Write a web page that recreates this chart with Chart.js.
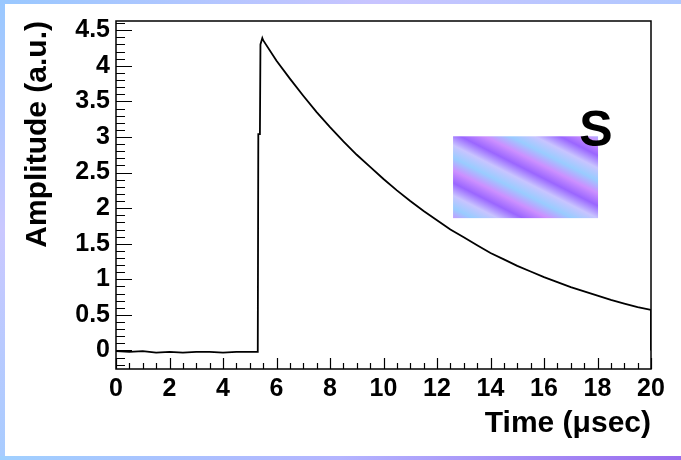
<!DOCTYPE html>
<html>
<head>
<meta charset="utf-8">
<script src="https://cdn.jsdelivr.net/npm/chart.js@4"></script>
<style>
body { margin: 0; }
#wrap { position: relative; width: 681px; height: 460px; overflow: hidden; background: #fff; }
.strip { position: absolute; }
#top { left: 0; top: 0; width: 681px; height: 4px; background: linear-gradient(to right, #99c8ff, #c8c4ff 55%, #b0c8ff); }
#left { left: 0; top: 0; width: 5px; height: 460px; background: linear-gradient(to bottom, #99c8ff, #cac8ff 50%, #a8ccff); }
#bottom { left: 0; bottom: 0; width: 681px; height: 4px; background: linear-gradient(to right, #a0d0ff, #b4b4ff 50%, #9a6cee); }
canvas { position: absolute; left: 0; top: 0; }
</style>
</head>
<body>
<div id="wrap">
	<div class="strip" id="top"></div>
	<div class="strip" id="left"></div>
	<div class="strip" id="bottom"></div>
	<canvas id="pulseChart" width="681" height="460"></canvas>
</div>
<script>
// pulse shape, time in microseconds
const timeUs = [0, 0.5, 1, 1.5, 2, 2.5, 3, 3.5, 4, 4.5, 5, 5.3,
	5.32, 5.38, 5.4, 5.47,
	5.5, 6, 6.5, 7, 7.5, 8, 8.5, 9, 9.5, 10, 10.5, 11, 11.5, 12, 12.5,
	13, 13.5, 14, 14.5, 15, 15.5, 16, 16.5, 17, 17.5, 18, 18.5, 19, 19.5, 20, 20];
const amplitude = [-0.01, -0.02, -0.01, -0.03, -0.02, -0.03, -0.02, -0.02, -0.03, -0.02, -0.02, -0.02,
	3.04, 3.04, 4.30, 4.39,
	4.36, 4.07, 3.82, 3.58, 3.35, 3.14, 2.94, 2.75, 2.58, 2.41, 2.25, 2.10, 1.96, 1.83, 1.70,
	1.59, 1.48, 1.37, 1.28, 1.19, 1.11, 1.03, 0.96, 0.89, 0.83, 0.77, 0.71, 0.66, 0.61, 0.57, 0.0];

const xTicks = [0, 2, 4, 6, 8, 10, 12, 14, 16, 18, 20];
const yTicks = [0, 0.5, 1, 1.5, 2, 2.5, 3, 3.5, 4, 4.5];
const yTickLabels = ['0', '0.5', '1', '1.5', '2', '2.5', '3', '3.5', '4', '4.5'];

Chart.defaults.font.family = '"Liberation Sans", Arial, sans-serif';
Chart.defaults.color = '#000';

// ROOT style frame, inner tick marks and the "S" box
const rootStyle = {
	id: 'rootStyle',
	beforeDatasetsDraw(chart) {
		const ctx = chart.ctx;
		const xs = chart.scales.x, ys = chart.scales.y;
		const x1 = xs.getPixelForValue(12.6), x2 = xs.getPixelForValue(18.02);
		const y1 = ys.getPixelForValue(3.01), y2 = ys.getPixelForValue(1.86);
		// stripes running down to the right, period about 45px
		const g = ctx.createLinearGradient(x1 - 10, y2 + 10, x1 - 10 + 0.45 * 180, y2 + 10 - 0.89 * 180);
		const cols = ['#9a66ff', '#cc90ff', '#99ccff', '#c8c4ff'];
		const n = 16;
		for (let i = 0; i <= n; i++) g.addColorStop(i / n, cols[i % 4]);
		ctx.save();
		ctx.fillStyle = g;
		ctx.fillRect(x1, y1, x2 - x1, y2 - y1);
		ctx.fillStyle = '#000';
		ctx.font = 'bold 50px "Liberation Sans", Arial, sans-serif';
		ctx.textAlign = 'center';
		ctx.textBaseline = 'alphabetic';
		ctx.fillText('S', xs.getPixelForValue(17.94), ys.getPixelForValue(2.87));
		ctx.restore();
	},
	afterDraw(chart) {
		const ctx = chart.ctx;
		const a = chart.chartArea;
		const xs = chart.scales.x, ys = chart.scales.y;
		ctx.save();
		ctx.strokeStyle = '#000';
		ctx.lineWidth = 1.5;
		ctx.strokeRect(a.left, a.top, a.right - a.left, a.bottom - a.top);
		ctx.lineWidth = 1.2;
		ctx.beginPath();
		for (let k = Math.ceil(ys.min * 10); k <= Math.floor(ys.max * 10); k++) {
			const y = Math.round(ys.getPixelForValue(k / 10)) + 0.5;
			const len = k % 5 === 0 ? 16 : 9;
			ctx.moveTo(a.left, y);
			ctx.lineTo(a.left + len, y);
		}
		for (let k = 0; k <= 40; k++) {
			const x = Math.round(xs.getPixelForValue(k / 2)) + 0.5;
			const len = k % 4 === 0 ? 11 : 6;
			ctx.moveTo(x, a.bottom);
			ctx.lineTo(x, a.bottom - len);
		}
		ctx.stroke();
		ctx.restore();
	}
};

new Chart(document.getElementById('pulseChart'), {
	type: 'line',
	data: {
		datasets: [
			{
				data: timeUs.map((t, i) => ({ x: t, y: amplitude[i] })),
				borderColor: '#000',
				borderWidth: 1.8,
				pointRadius: 0,
				tension: 0,
				fill: false
			}
		]
	},
	options: {
		responsive: false,
		animation: false,
		layout: { padding: { left: 10, top: 15, right: 30, bottom: 4 } },
		plugins: {
			legend: { display: false },
			tooltip: { enabled: false }
		},
		scales: {
			x: {
				type: 'linear',
				min: 0,
				max: 20,
				grid: { display: false, drawTicks: false },
				border: { display: false },
				afterBuildTicks: s => { s.ticks = xTicks.map(v => ({ value: v })); },
				afterFit: s => { s.height = 87; },
				ticks: {
					font: { size: 25, weight: 'bold' },
					padding: 5,
					maxRotation: 0,
					autoSkip: false,
					callback: v => String(v)
				},
				title: {
					display: true,
					text: 'Time (μsec)',
					align: 'end',
					font: { size: 30, weight: 'bold' },
					padding: { top: 0, bottom: 14 }
				}
			},
			y: {
				min: -0.26,
				max: 4.63,
				grid: { display: false, drawTicks: false },
				border: { display: false },
				afterBuildTicks: s => { s.ticks = yTicks.map(v => ({ value: v })); },
				afterFit: s => { s.width = 106; },
				ticks: {
					font: { size: 25, weight: 'bold' },
					padding: 6,
					autoSkip: false,
					callback: (v, i) => yTickLabels[i]
				},
				title: {
					display: true,
					text: 'Amplitude (a.u.)',
					align: 'end',
					font: { size: 30, weight: 'bold' },
					padding: { top: 10, bottom: 0 }
				}
			}
		}
	},
	plugins: [rootStyle]
});
</script>
</body>
</html>
